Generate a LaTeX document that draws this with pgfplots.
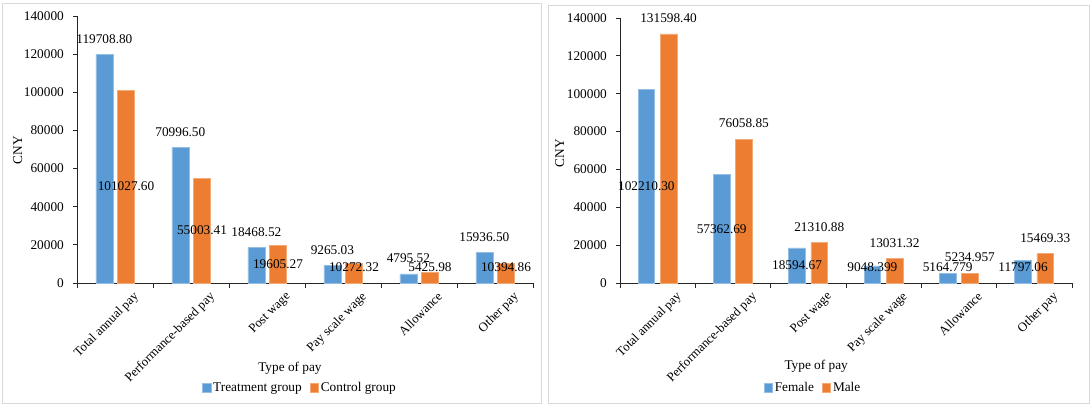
\documentclass[border=0pt]{standalone}
\usepackage{fontspec}
\setmainfont{Liberation Serif}
\usepackage{pgfplots}
\pgfplotsset{compat=1.18}
\definecolor{xblue}{HTML}{5B9BD5}
\definecolor{xorange}{HTML}{ED7D31}
\definecolor{framegray}{HTML}{D9D9D9}
\definecolor{axisgray}{HTML}{262626}
\newcommand\fs{\fontsize{13.3bp}{16bp}\selectfont}
\newcommand\fx{\fontsize{12.8bp}{15bp}\selectfont}
\pgfplotsset{
  panel/.style={
    scale only axis, anchor=south west,
    axis x line*=bottom, axis y line*=left,
    axis line style={-, axisgray, line width=0.9bp},
    ybar, ymin=0, ymax=140000, ytick={0,20000,...,140000},
    xmin=-0.5, xmax=5.5, xtick={0,...,5},
    minor xtick={-0.5,0.5,...,5.5},
    xticklabels={Total annual pay,Performance-based pay,Post wage,Pay scale wage,Allowance,Other pay},
    tick align=outside, major tick length=4bp, minor tick length=5bp,
    tick style={axisgray, line width=0.9bp},
    major x tick style={draw=none},
    scaled y ticks=false,
    /pgf/number format/fixed,
    /pgf/number format/precision=0,
    /pgf/number format/set thousands separator={},
    /pgf/number format/assume math mode=true,
    yticklabel style={font=\fs, anchor=east, inner sep=0pt, xshift=-9bp},
    label style={font=\fs},
    xticklabel style={font=\fx, rotate=45, anchor=north east, inner sep=0pt, xshift=10bp, yshift=-15bp},
    legend style={draw=none, fill=none, legend columns=2, font=\fs,
      /tikz/every even column/.append style={column sep=6bp}},
    legend image code/.code={\fill[##1] (0bp,-4.2bp) rectangle (8.5bp,4.2bp);},
  },
  abovelbl/.style={nodes near coords={\pgfplotspointmeta}, point meta=explicit symbolic,
    every node near coord/.append style={anchor=center, yshift=15.5bp, font=\fs, inner sep=0pt, black}},
  centerlbl/.style={nodes near coords={\pgfplotspointmeta}, point meta=explicit symbolic,
    visualization depends on={y \as \rawy},
    every node near coord/.append style={anchor=center, font=\fs, inner sep=0pt, black,
      /utils/exec={\pgfkeys{/pgf/fpu=true,/pgf/fpu/output format=fixed}%
        \pgfmathsetmacro\lblshift{-min(\rawy*#1/2,\rawy*#1-15.5)}%
        \pgfkeys{/pgf/fpu=false}},
      yshift=\lblshift bp}},
}
\begin{document}
\begin{tikzpicture}[font=\fs]
\useasboundingbox (0,0) rectangle (1092bp,-410bp);
\draw[framegray, line width=1bp] (2.5bp,-3.5bp) rectangle (541.5bp,-403.5bp);
\draw[framegray, line width=1bp] (548.5bp,-5.5bp) rectangle (1089bp,-403bp);

% ---------------- left panel ----------------
\begin{axis}[panel, at={(77bp,-283bp)}, width=456bp, height=267bp,
  xlabel={Type of pay}, ylabel={CNY},
  xlabel style={at={(axis description cs:0.467,-0.318)}, anchor=center},
  ylabel style={at={(axis description cs:-0.130,0.498)}, anchor=center},
  legend style={at={(axis description cs:0.489,-0.393)}, anchor=center}]
\addplot[fill=xblue, draw=xblue!65!white, line width=0.6bp, bar width=0.225, bar shift=-0.14, abovelbl]
  coordinates {(0,119708.80) [119708.80] (1,70996.50) [70996.50] (2,18468.52) [18468.52]
               (3,9265.03) [9265.03] (4,4795.52) [4795.52] (5,15936.50) [15936.50]};
\addplot[fill=xorange, draw=xorange!65!white, line width=0.6bp, bar width=0.225, bar shift=0.145, centerlbl=0.00190714]
  coordinates {(0,101027.60) [101027.60] (1,55003.41) [55003.41] (2,19605.27) [19605.27]
               (3,10272.32) [10272.32] (4,5425.98) [5425.98] (5,10394.86) [10394.86]};
\legend{Treatment group, Control group}
\end{axis}

% ---------------- right panel ----------------
\begin{axis}[panel, at={(620bp,-283bp)}, width=452bp, height=265bp,
  xlabel={Type of pay}, ylabel={CNY},
  xlabel style={at={(axis description cs:0.434,-0.313)}, anchor=center},
  ylabel style={at={(axis description cs:-0.133,0.49)}, anchor=center},
  legend style={at={(axis description cs:0.427,-0.395)}, anchor=center}]
\addplot[fill=xblue, draw=xblue!65!white, line width=0.6bp, bar width=0.22, bar shift=-0.15, centerlbl=0.00189286]
  coordinates {(0,102210.30) [102210.30] (1,57362.69) [57362.69] (2,18594.67) [18594.67]
               (3,9048.399) [9048.399] (4,5164.779) [5164.779] (5,11797.06) [11797.06]};
\addplot[fill=xorange, draw=xorange!65!white, line width=0.6bp, bar width=0.22, bar shift=0.145, abovelbl]
  coordinates {(0,131598.40) [131598.40] (1,76058.85) [76058.85] (2,21310.88) [21310.88]
               (3,13031.32) [13031.32] (4,5234.957) [5234.957] (5,15469.33) [15469.33]};
\legend{Female, Male}
\end{axis}
\end{tikzpicture}
\end{document}
